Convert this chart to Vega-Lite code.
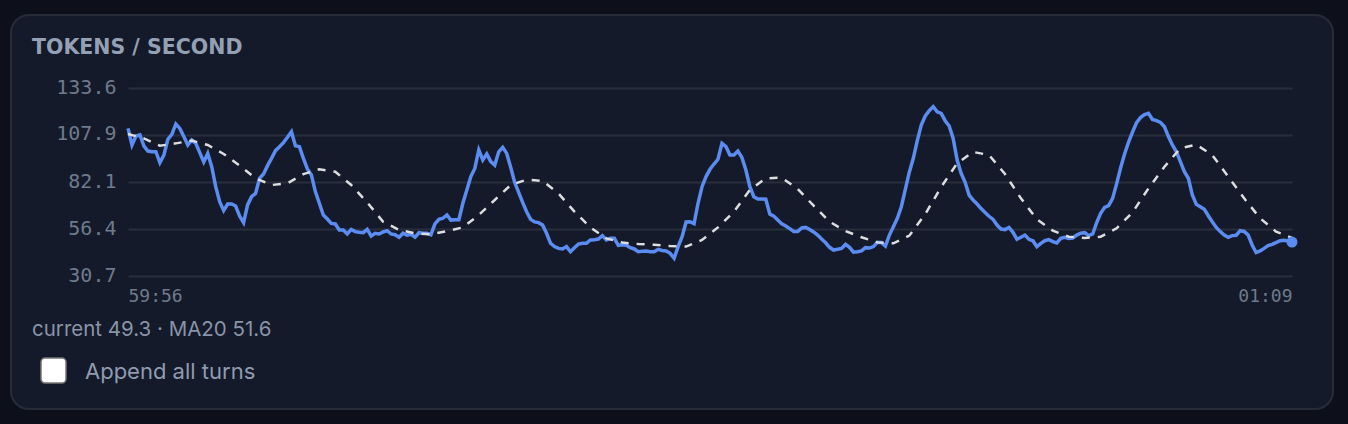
{
  "$schema": "https://vega.github.io/schema/vega-lite/v6.json",
  "description": "Tokens per second with a 20 sample moving average.",
  "width": 1322,
  "height": 394,
  "autosize": "none",
  "padding": {"left": 11, "top": 15, "right": 15, "bottom": 15},
  "background": "#0d101b",
  "view": {"fill": "#141a29", "stroke": "#262c3a", "strokeWidth": 2, "cornerRadius": 18},
  "title": {
    "text": "TOKENS / SECOND",
    "anchor": "start",
    "frame": "group",
    "orient": "top",
    "baseline": "alphabetic",
    "offset": -41,
    "dx": 21,
    "dy": 18,
    "font": "DejaVu Sans",
    "fontSize": 20.5,
    "fontWeight": 700,
    "color": "#94a0b4"
  },
  "datasets": {
    "tps": [
      {"t":3596000,"tps":111.5},{"t":3596250,"tps":102.4},{"t":3596500,"tps":107.3},{"t":3596750,"tps":107.9},{"t":3597000,"tps":101.8},{"t":3597250,"tps":99.1},{"t":3597500,"tps":98.7},{"t":3597750,"tps":98.7},{"t":3598000,"tps":92.7},{"t":3598250,"tps":96.9},
      {"t":3598500,"tps":105.5},{"t":3598750,"tps":108.2},{"t":3599000,"tps":113.9},{"t":3599250,"tps":111.5},{"t":3599500,"tps":107},{"t":3599750,"tps":102.4},{"t":3600000,"tps":105.1},{"t":3600250,"tps":103.3},{"t":3600500,"tps":98.2},{"t":3600750,"tps":93.1},
      {"t":3601000,"tps":97.8},{"t":3601250,"tps":90.5},{"t":3601500,"tps":79.6},{"t":3601750,"tps":71.4},{"t":3602000,"tps":66.5},{"t":3602250,"tps":70.1},{"t":3602500,"tps":70.1},{"t":3602750,"tps":69},{"t":3603000,"tps":63.5},{"t":3603250,"tps":59.9},
      {"t":3603500,"tps":69.6},{"t":3603750,"tps":74.1},{"t":3604000,"tps":75.9},{"t":3604250,"tps":84.2},{"t":3604500,"tps":86.5},{"t":3604750,"tps":91.1},{"t":3605000,"tps":95.1},{"t":3605250,"tps":99.3},{"t":3605500,"tps":101.5},{"t":3605750,"tps":103.7},
      {"t":3606000,"tps":106.6},{"t":3606250,"tps":109.7},{"t":3606500,"tps":102},{"t":3606750,"tps":101.5},{"t":3607000,"tps":95.1},{"t":3607250,"tps":89.3},{"t":3607500,"tps":86},{"t":3607750,"tps":76.9},{"t":3608000,"tps":70.5},{"t":3608250,"tps":64.1},
      {"t":3608500,"tps":61.9},{"t":3608750,"tps":59.5},{"t":3609000,"tps":59.2},{"t":3609250,"tps":55.9},{"t":3609500,"tps":55.9},{"t":3609750,"tps":53.7},{"t":3610000,"tps":56.2},{"t":3610250,"tps":55},{"t":3610500,"tps":54.6},{"t":3610750,"tps":54.4},
      {"t":3611000,"tps":56.2},{"t":3611250,"tps":52.6},{"t":3611500,"tps":54.1},{"t":3611750,"tps":53.7},{"t":3612000,"tps":54.8},{"t":3612250,"tps":55.5},{"t":3612500,"tps":53.7},{"t":3612750,"tps":53.3},{"t":3613000,"tps":51.9},{"t":3613250,"tps":54.1},
      {"t":3613500,"tps":53},{"t":3613750,"tps":53.5},{"t":3614000,"tps":52},{"t":3614250,"tps":54.4},{"t":3614500,"tps":54.1},{"t":3614750,"tps":54.1},{"t":3615000,"tps":53.3},{"t":3615250,"tps":59.2},{"t":3615500,"tps":61.7},{"t":3615750,"tps":62.3},
      {"t":3616000,"tps":64.1},{"t":3616250,"tps":61.3},{"t":3616500,"tps":61.5},{"t":3616750,"tps":61.5},{"t":3617000,"tps":70.5},{"t":3617250,"tps":77.8},{"t":3617500,"tps":85.1},{"t":3617750,"tps":89.6},{"t":3618000,"tps":99.7},{"t":3618250,"tps":94.2},
      {"t":3618500,"tps":97.5},{"t":3618750,"tps":93.3},{"t":3619000,"tps":91.4},{"t":3619250,"tps":98.7},{"t":3619500,"tps":101.1},{"t":3619750,"tps":97.8},{"t":3620000,"tps":90.2},{"t":3620250,"tps":82},{"t":3620500,"tps":76.5},{"t":3620750,"tps":71},
      {"t":3621000,"tps":65.9},{"t":3621250,"tps":61.7},{"t":3621500,"tps":60.3},{"t":3621750,"tps":59.9},{"t":3622000,"tps":58.6},{"t":3622250,"tps":54.1},{"t":3622500,"tps":48.6},{"t":3622750,"tps":46.8},{"t":3623000,"tps":45.8},{"t":3623250,"tps":45.5},
      {"t":3623500,"tps":46.8},{"t":3623750,"tps":44},{"t":3624000,"tps":46.2},{"t":3624250,"tps":48.2},{"t":3624500,"tps":48.6},{"t":3624750,"tps":48.6},{"t":3625000,"tps":50.4},{"t":3625250,"tps":50.6},{"t":3625500,"tps":50.9},{"t":3625750,"tps":52.8},
      {"t":3626000,"tps":50.4},{"t":3626250,"tps":51.3},{"t":3626500,"tps":51.3},{"t":3626750,"tps":47.5},{"t":3627000,"tps":47.8},{"t":3627250,"tps":47.5},{"t":3627500,"tps":46.2},{"t":3627750,"tps":45.5},{"t":3628000,"tps":44},{"t":3628250,"tps":44.2},
      {"t":3628500,"tps":44.4},{"t":3628750,"tps":44},{"t":3629000,"tps":44},{"t":3629250,"tps":45.3},{"t":3629500,"tps":44.7},{"t":3629750,"tps":44.4},{"t":3630000,"tps":43.1},{"t":3630250,"tps":40.4},{"t":3630500,"tps":46.8},{"t":3630750,"tps":52.2},
      {"t":3631000,"tps":60.3},{"t":3631250,"tps":60.4},{"t":3631500,"tps":59.3},{"t":3631750,"tps":70.5},{"t":3632000,"tps":79.6},{"t":3632250,"tps":85.1},{"t":3632500,"tps":89.1},{"t":3632750,"tps":92},{"t":3633000,"tps":94.6},{"t":3633250,"tps":103.3},
      {"t":3633500,"tps":101.5},{"t":3633750,"tps":96.9},{"t":3634000,"tps":96.9},{"t":3634250,"tps":99.1},{"t":3634500,"tps":95.6},{"t":3634750,"tps":88.7},{"t":3635000,"tps":79.6},{"t":3635250,"tps":74.1},{"t":3635500,"tps":72.8},{"t":3635750,"tps":72.8},
      {"t":3636000,"tps":72.7},{"t":3636250,"tps":64.6},{"t":3636500,"tps":63.5},{"t":3636750,"tps":61.3},{"t":3637000,"tps":59.2},{"t":3637250,"tps":58.1},{"t":3637500,"tps":56.6},{"t":3637750,"tps":55.1},{"t":3638000,"tps":55.1},{"t":3638250,"tps":57},
      {"t":3638500,"tps":57.3},{"t":3638750,"tps":56.2},{"t":3639000,"tps":54.8},{"t":3639250,"tps":53.1},{"t":3639500,"tps":50.9},{"t":3639750,"tps":48.9},{"t":3640000,"tps":46.4},{"t":3640250,"tps":44.9},{"t":3640500,"tps":45.3},{"t":3640750,"tps":45.8},
      {"t":3641000,"tps":48},{"t":3641250,"tps":46.4},{"t":3641500,"tps":43.8},{"t":3641750,"tps":44},{"t":3642000,"tps":44.4},{"t":3642250,"tps":46.2},{"t":3642500,"tps":46},{"t":3642750,"tps":46.8},{"t":3643000,"tps":49.1},{"t":3643250,"tps":49},
      {"t":3643500,"tps":47.1},{"t":3643750,"tps":53.1},{"t":3644000,"tps":57.7},{"t":3644250,"tps":62.3},{"t":3644500,"tps":68.6},{"t":3644750,"tps":78.1},{"t":3645000,"tps":87.5},{"t":3645250,"tps":95.1},{"t":3645500,"tps":104.8},{"t":3645750,"tps":113.3},
      {"t":3646000,"tps":118.3},{"t":3646250,"tps":121.2},{"t":3646500,"tps":123.4},{"t":3646750,"tps":120.6},{"t":3647000,"tps":119.7},{"t":3647250,"tps":115.7},{"t":3647500,"tps":112.8},{"t":3647750,"tps":106},{"t":3648000,"tps":94.2},{"t":3648250,"tps":86.9},
      {"t":3648500,"tps":82},{"t":3648750,"tps":75},{"t":3649000,"tps":72.3},{"t":3649250,"tps":70.1},{"t":3649500,"tps":67.6},{"t":3649750,"tps":65.4},{"t":3650000,"tps":63.4},{"t":3650250,"tps":61.7},{"t":3650500,"tps":58.6},{"t":3650750,"tps":56.4},
      {"t":3651000,"tps":56.1},{"t":3651250,"tps":57.3},{"t":3651500,"tps":54.6},{"t":3651750,"tps":50.8},{"t":3652000,"tps":51.9},{"t":3652250,"tps":53.1},{"t":3652500,"tps":50.8},{"t":3652750,"tps":50},{"t":3653000,"tps":46.8},{"t":3653250,"tps":48.6},
      {"t":3653500,"tps":50},{"t":3653750,"tps":50.6},{"t":3654000,"tps":49.5},{"t":3654250,"tps":48.8},{"t":3654500,"tps":51.3},{"t":3654750,"tps":51.9},{"t":3655000,"tps":51.3},{"t":3655250,"tps":51.5},{"t":3655500,"tps":53.1},{"t":3655750,"tps":54.1},
      {"t":3656000,"tps":54.4},{"t":3656250,"tps":52.8},{"t":3656500,"tps":53.7},{"t":3656750,"tps":59.9},{"t":3657000,"tps":65},{"t":3657250,"tps":68.3},{"t":3657500,"tps":69.2},{"t":3657750,"tps":73.2},{"t":3658000,"tps":81.1},{"t":3658250,"tps":89.8},
      {"t":3658500,"tps":97.5},{"t":3658750,"tps":104},{"t":3659000,"tps":109.5},{"t":3659250,"tps":114.6},{"t":3659500,"tps":117.4},{"t":3659750,"tps":119},{"t":3660000,"tps":119.7},{"t":3660250,"tps":116.4},{"t":3660500,"tps":115.7},{"t":3660750,"tps":114.8},
      {"t":3661000,"tps":112.4},{"t":3661250,"tps":107},{"t":3661500,"tps":102.4},{"t":3661750,"tps":98.7},{"t":3662000,"tps":93.3},{"t":3662250,"tps":87.8},{"t":3662500,"tps":84.2},{"t":3662750,"tps":75},{"t":3663000,"tps":69.9},{"t":3663250,"tps":68.6},
      {"t":3663500,"tps":67.2},{"t":3663750,"tps":63.7},{"t":3664000,"tps":60.4},{"t":3664250,"tps":57.3},{"t":3664500,"tps":55},{"t":3664750,"tps":53.1},{"t":3665000,"tps":51.9},{"t":3665250,"tps":52.8},{"t":3665500,"tps":53},{"t":3665750,"tps":55.5},
      {"t":3666000,"tps":55.1},{"t":3666250,"tps":53.1},{"t":3666500,"tps":47.7},{"t":3666750,"tps":43.5},{"t":3667000,"tps":44.4},{"t":3667250,"tps":45.8},{"t":3667500,"tps":47.3},{"t":3667750,"tps":48},{"t":3668000,"tps":49},{"t":3668250,"tps":50},
      {"t":3668500,"tps":50.2},{"t":3668750,"tps":49.9},{"t":3669000,"tps":49.3}
    ],
    "ma20": [
      {"t":3596000,"ma":108.4},{"t":3597000,"ma":106},{"t":3598000,"ma":102},{"t":3599000,"ma":103.3},{"t":3600000,"ma":104.8},{"t":3601000,"ma":102.4},{"t":3602000,"ma":97.5},{"t":3603000,"ma":91.1},{"t":3604000,"ma":84.2},{"t":3605000,"ma":80.5},
      {"t":3606000,"ma":81.4},{"t":3607000,"ma":86.5},{"t":3608000,"ma":89.1},{"t":3609000,"ma":87.8},{"t":3610000,"ma":80.5},{"t":3611000,"ma":71},{"t":3612000,"ma":60.4},{"t":3613000,"ma":55.9},{"t":3614000,"ma":54.1},{"t":3615000,"ma":53.5},
      {"t":3616000,"ma":55.3},{"t":3617000,"ma":57.3},{"t":3618000,"ma":64.1},{"t":3619000,"ma":72.3},{"t":3620000,"ma":80.5},{"t":3621000,"ma":83.4},{"t":3622000,"ma":82.7},{"t":3623000,"ma":75.9},{"t":3624000,"ma":65.9},{"t":3625000,"ma":57.3},
      {"t":3626000,"ma":51.3},{"t":3627000,"ma":49},{"t":3628000,"ma":48.2},{"t":3629000,"ma":47.8},{"t":3630000,"ma":47.1},{"t":3631000,"ma":46.8},{"t":3632000,"ma":50.4},{"t":3633000,"ma":57.3},{"t":3634000,"ma":65.9},{"t":3635000,"ma":77.8},
      {"t":3636000,"ma":84.2},{"t":3637000,"ma":84.5},{"t":3638000,"ma":78.3},{"t":3639000,"ma":69.2},{"t":3640000,"ma":60.4},{"t":3641000,"ma":55.3},{"t":3642000,"ma":51.9},{"t":3643000,"ma":49.1},{"t":3644000,"ma":48.6},{"t":3645000,"ma":52.8},
      {"t":3646000,"ma":64.6},{"t":3647000,"ma":79.4},{"t":3648000,"ma":92.4},{"t":3649000,"ma":98.6},{"t":3650000,"ma":96.9},{"t":3651000,"ma":86.5},{"t":3652000,"ma":73.2},{"t":3653000,"ma":61.7},{"t":3654000,"ma":55.5},{"t":3655000,"ma":52.2},
      {"t":3656000,"ma":51.5},{"t":3657000,"ma":52.2},{"t":3658000,"ma":56.8},{"t":3659000,"ma":65.5},{"t":3660000,"ma":78.7},{"t":3661000,"ma":90.5},{"t":3662000,"ma":100.6},{"t":3663000,"ma":102.6},{"t":3664000,"ma":96.9},{"t":3665000,"ma":85.1},
      {"t":3666000,"ma":73.2},{"t":3667000,"ma":62.3},{"t":3668000,"ma":55},{"t":3669000,"ma":51.6}
    ],
    "last": [{"t":3669000,"tps":49.3}],
    "summary": [{"label":"current 49.3 · MA20 51.6"}],
    "toggle": [{"label":"Append all turns","checked":false}]
  },
  "layer": [
    {
      "data": {"name": "tps"},
      "mark": {"type": "line", "color": "#5b8cf2", "strokeWidth": 3.5, "strokeJoin": "miter"},
      "encoding": {
        "x": {
          "field": "t",
          "type": "temporal",
          "scale": {"domain": [3596000, 3669000], "range": [117, 1281]},
          "axis": {
            "title": null,
            "values": [3596000, 3669000],
            "format": "%M:%S",
            "offset": -133,
            "domain": false,
            "ticks": false,
            "grid": false,
            "labelFlush": true,
            "labelPadding": 11,
            "labelFont": "DejaVu Sans Mono",
            "labelFontSize": 18,
            "labelColor": "#6f7a8c"
          }
        },
        "y": {
          "field": "tps",
          "type": "quantitative",
          "scale": {"domain": [30.7, 133.6], "range": [261, 73], "zero": false, "nice": false},
          "axis": {
            "title": null,
            "values": [30.7, 56.4, 82.1, 107.9, 133.6],
            "format": ".1f",
            "offset": -117,
            "domain": false,
            "ticks": false,
            "grid": true,
            "gridColor": "#282e3c",
            "gridWidth": 2,
            "labelPadding": 12,
            "labelOffset": -1,
            "labelFont": "DejaVu Sans Mono",
            "labelFontSize": 20,
            "labelColor": "#6f7a8c"
          }
        }
      }
    },
    {
      "data": {"name": "ma20"},
      "mark": {"type": "line", "color": "#dcdddf", "strokeWidth": 2.5, "strokeDash": [8, 8]},
      "encoding": {
        "x": {"field": "t", "type": "temporal", "scale": {"domain": [3596000, 3669000], "range": [117, 1281]}},
        "y": {"field": "ma", "type": "quantitative", "scale": {"domain": [30.7, 133.6], "range": [261, 73], "zero": false, "nice": false}}
      }
    },
    {
      "data": {"name": "last"},
      "mark": {"type": "point", "filled": true, "opacity": 1, "color": "#5b8cf2", "size": 120},
      "encoding": {
        "x": {"field": "t", "type": "temporal", "scale": {"domain": [3596000, 3669000], "range": [117, 1281]}},
        "y": {"field": "tps", "type": "quantitative", "scale": {"domain": [30.7, 133.6], "range": [261, 73], "zero": false, "nice": false}}
      }
    },
    {
      "data": {"name": "summary"},
      "mark": {"type": "text", "align": "left", "baseline": "middle", "font": "Inter", "fontSize": 20.5, "color": "#8994a8"},
      "encoding": {
        "x": {"datum": 3589980, "type": "temporal", "scale": {"domain": [3596000, 3669000], "range": [117, 1281]}},
        "y": {"datum": 1.2, "type": "quantitative", "scale": {"domain": [30.7, 133.6], "range": [261, 73], "zero": false, "nice": false}},
        "text": {"field": "label"}
      }
    },
    {
      "data": {"name": "toggle"},
      "mark": {"type": "rect", "fill": "#ffffff", "stroke": "#767676", "strokeWidth": 1.5, "cornerRadius": 4},
      "encoding": {
        "x": {"datum": 3590544, "type": "temporal", "scale": {"domain": [3596000, 3669000], "range": [117, 1281]}},
        "x2": {"datum": 3592112},
        "y": {"datum": -14.2, "type": "quantitative", "scale": {"domain": [30.7, 133.6], "range": [261, 73], "zero": false, "nice": false}},
        "y2": {"datum": -27.9}
      }
    },
    {
      "data": {"name": "toggle"},
      "mark": {"type": "text", "align": "left", "baseline": "middle", "font": "Inter", "fontSize": 22, "color": "#8f9bb0"},
      "encoding": {
        "x": {"datum": 3593303, "type": "temporal", "scale": {"domain": [3596000, 3669000], "range": [117, 1281]}},
        "y": {"datum": -21.8, "type": "quantitative", "scale": {"domain": [30.7, 133.6], "range": [261, 73], "zero": false, "nice": false}},
        "text": {"field": "label"}
      }
    }
  ]
}
